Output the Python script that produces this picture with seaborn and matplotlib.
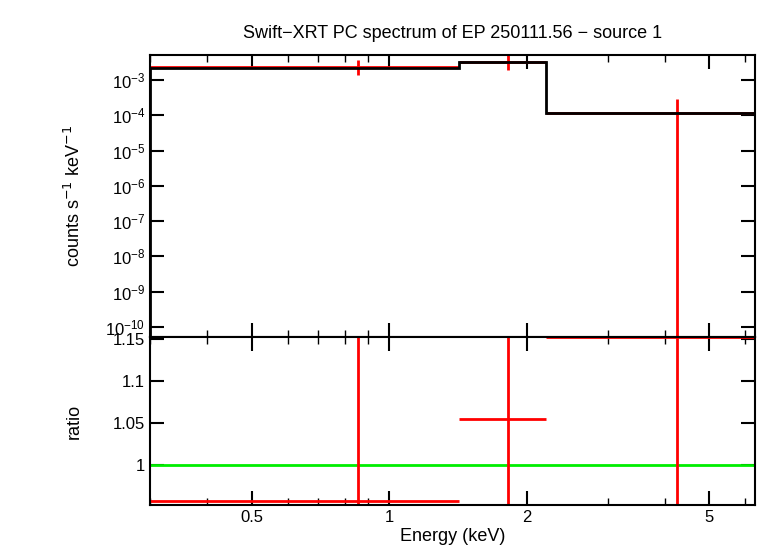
import numpy as np
import matplotlib
matplotlib.use("Agg")
import matplotlib.pyplot as plt
import seaborn as sns

# bins (keV)
bin_lo = [0.3, 1.42, 2.2]
bin_hi = [1.42, 2.2, 6.3]
e_mid = [0.855, 1.817, 4.25]
# spectrum (counts s-1 keV-1)
rate = [2.3e-3, 3.3e-3, 1.16e-4]
rate_lo = [1.4e-3, 1.9e-3, 1e-12]
rate_hi = [3.6e-3, 5.5e-3, 2.8e-4]
model = [2.2e-3, 3.2e-3, 1.16e-4]
# ratio
ratio = [0.957, 1.054, 1.152]
ratio_lo = [0.9, 0.9, 0.9]
ratio_hi = [1.2, 1.2, 1.2]

sns.set_style("ticks")
plt.rcParams["font.family"] = "Liberation Sans"
plt.rcParams["text.color"] = "black"
plt.rcParams["axes.labelcolor"] = "black"
plt.rcParams["xtick.color"] = "black"
plt.rcParams["ytick.color"] = "black"
fig = plt.figure(figsize=(7.58, 5.56), dpi=100)
ax1 = fig.add_axes([150 / 758, 1 - 337 / 556, 605 / 758, 282 / 556])
ax2 = fig.add_axes([150 / 758, 1 - 505 / 556, 605 / 758, 168 / 556], sharex=ax1)

for ax in (ax1, ax2):
    ax.set_xscale("log")
    for s in ax.spines.values():
        s.set_linewidth(1.5)
        s.set_color("black")
    ax.tick_params(which="both", direction="in", top=True, right=True, labelsize=12)
    ax.tick_params(which="major", length=10, width=1.5)
    ax.tick_params(which="minor", length=5, width=1)

# top panel
edges = bin_lo + [bin_hi[-1]]
for lo, hi, x, y, ylo, yhi in zip(bin_lo, bin_hi, e_mid, rate, rate_lo, rate_hi):
    ax1.hlines(y, lo, hi, color="red", lw=2)
    ax1.vlines(x, ylo, yhi, color="red", lw=2)
ax1.stairs(model, edges, color="black", lw=2, zorder=3)
ax1.set_yscale("log")
ax1.set_ylim(5.2e-11, 5.1e-3)
ax1.set_yticks([10.0 ** k for k in range(-10, -2)])
ax1.yaxis.set_minor_locator(matplotlib.ticker.NullLocator())
ax1.set_xlim(0.3, 6.3)
ax1.tick_params(labelbottom=False)
ax1.set_ylabel("counts s$^{-1}$ keV$^{-1}$", fontsize=13, labelpad=15)
ax1.set_title("Swift\u2212XRT PC spectrum of EP 250111.56 \u2212 source 1", fontsize=13, pad=12)

# ratio panel
ax2.axhline(1.0, color="#00ee00", lw=2)
for lo, hi, x, y, ylo, yhi in zip(bin_lo, bin_hi, e_mid, ratio, ratio_lo, ratio_hi):
    ax2.hlines(y, lo, hi, color="red", lw=2)
    ax2.vlines(x, ylo, yhi, color="red", lw=2)
ax2.set_ylim(0.952, 1.1524)
ax2.set_yticks([1, 1.05, 1.1, 1.15])
ax2.set_yticklabels(["1", "1.05", "1.1", "1.15"])
ax2.set_xticks([0.5, 1, 2, 5])
ax2.set_xticklabels(["0.5", "1", "2", "5"])
ax2.xaxis.set_minor_formatter(matplotlib.ticker.NullFormatter())
ax2.set_xlim(0.3, 6.3)
ax2.set_ylabel("ratio", fontsize=13, labelpad=22)
ax2.set_xlabel("Energy (keV)", fontsize=13, labelpad=2)

fig.savefig("out.png", dpi=100)
